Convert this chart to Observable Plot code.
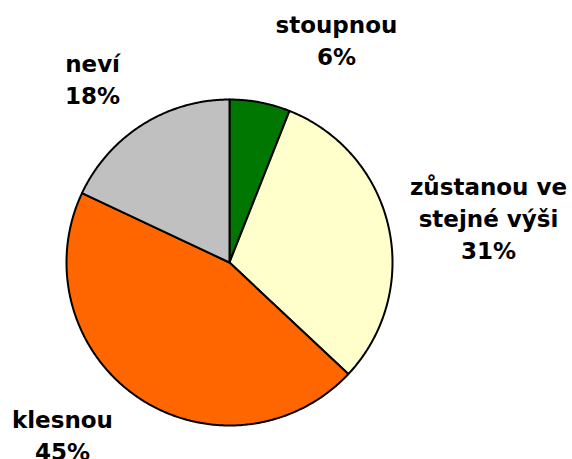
<!DOCTYPE html>
<html>
<head>
<meta charset="utf-8">
<script src="https://cdn.jsdelivr.net/npm/d3@7"></script>
<script src="https://cdn.jsdelivr.net/npm/@observablehq/plot@0.6"></script>
<style>
  html, body { margin: 0; padding: 0; background: #fff; }
</style>
</head>
<body>
<div id="chart"></div>
<script>
const categories = ["stoupnou", "zůstanou ve\nstejné výši", "klesnou", "neví"];
const values = [6, 31, 45, 18];
const colors = ["#007700", "#FFFFCC", "#FF6600", "#C0C0C0"];

const total = d3.sum(values);
// polygon points for each slice, angle clockwise from top
const pts = [];
let acc = 0;
categories.forEach((c, i) => {
  const a0 = acc / total * 2 * Math.PI;
  acc += values[i];
  const a1 = acc / total * 2 * Math.PI;
  pts.push({k: c, x: 0, y: 0});
  const n = Math.max(2, Math.ceil((a1 - a0) / 0.01));
  for (let j = 0; j <= n; j++) {
    const a = a0 + (a1 - a0) * j / n;
    pts.push({k: c, x: Math.sin(a), y: Math.cos(a)});
  }
});

const labels = categories.map((c, i) => ({k: c, text: `${c}\n${values[i]}%`}));
const labelPos = {
  "stoupnou": [0.656, 1.37],
  "zůstanou ve\nstejné výši": [1.589, 0.28],
  "klesnou": [-1.025, -1.05],
  "neví": [-0.84, 1.135]
};

const chart = Plot.plot({
  width: 572,
  height: 459,
  marginLeft: 66,
  marginRight: 180,
  marginTop: 99,
  marginBottom: 34,
  x: {domain: [-1, 1], axis: null},
  y: {domain: [-1, 1], axis: null},
  color: {domain: categories, range: colors},
  style: {fontFamily: "DejaVu Sans", background: "#fff", overflow: "visible"},
  marks: [
    Plot.line(pts, {x: "x", y: "y", z: "k", fill: "k", stroke: "#000", strokeWidth: 2, strokeLinejoin: "round", curve: "linear-closed"}),
    Plot.text(labels, {
      x: d => labelPos[d.k][0],
      y: d => labelPos[d.k][1],
      text: "text",
      fontSize: 23,
      fontWeight: "bold",
      lineHeight: 1.39,
      fill: "#000",
      textAnchor: "middle",
      lineAnchor: "middle"
    })
  ]
});
document.getElementById("chart").appendChild(chart);
</script>
</body>
</html>
